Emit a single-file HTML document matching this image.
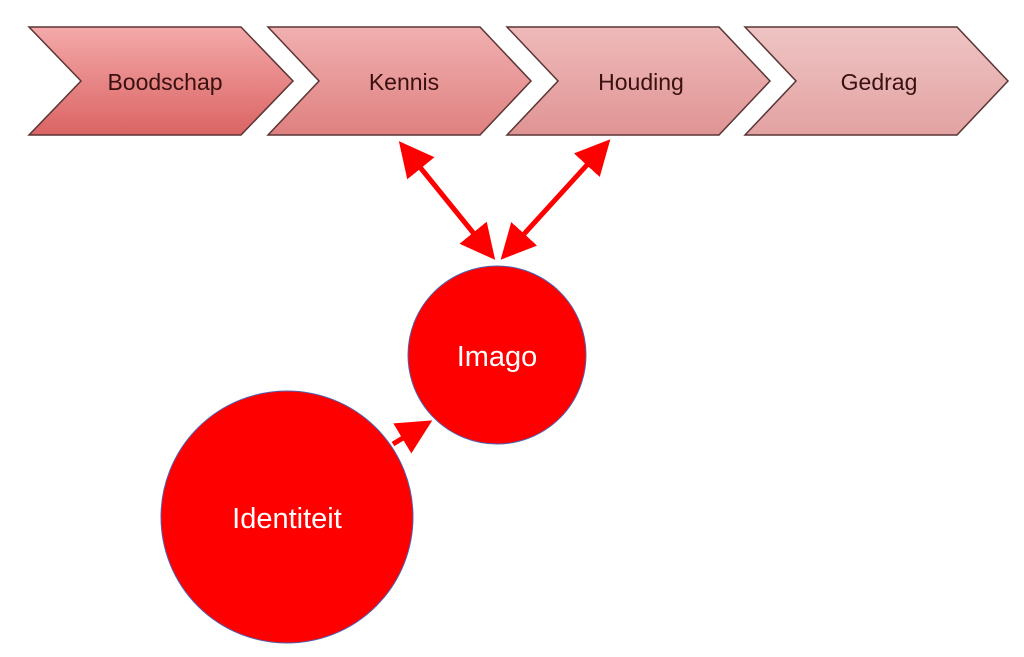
<!DOCTYPE html>
<html><head><meta charset="utf-8"><style>
html,body{margin:0;padding:0;background:#fff;width:1024px;height:657px;overflow:hidden}
svg{display:block}
text{font-family:"Liberation Sans",sans-serif}
</style></head><body>
<svg width="1024" height="657" viewBox="0 0 1024 657" xmlns="http://www.w3.org/2000/svg">
<defs>
<linearGradient id="g1" x1="0" y1="0" x2="0" y2="1"><stop offset="0" stop-color="#f4a9a9"/><stop offset="1" stop-color="#db6464"/></linearGradient>
<linearGradient id="g2" x1="0" y1="0" x2="0" y2="1"><stop offset="0" stop-color="#f1b0b0"/><stop offset="1" stop-color="#df8080"/></linearGradient>
<linearGradient id="g3" x1="0" y1="0" x2="0" y2="1"><stop offset="0" stop-color="#efbaba"/><stop offset="1" stop-color="#e09494"/></linearGradient>
<linearGradient id="g4" x1="0" y1="0" x2="0" y2="1"><stop offset="0" stop-color="#efc4c4"/><stop offset="1" stop-color="#e3a2a2"/></linearGradient>
<marker id="ah" markerWidth="7" markerHeight="7" refX="6" refY="3.5" orient="auto-start-reverse" markerUnits="strokeWidth"><path d="M0,0 L7,3.5 L0,7 z" fill="#f00"/></marker>
</defs>
<g stroke="#5a3535" stroke-width="1.5">
<polygon points="29,27 241,27 293,81 241,135 29,135 81,81" fill="url(#g1)"/>
<polygon points="268,27 480,27 531,81 480,135 268,135 319,81" fill="url(#g2)"/>
<polygon points="507,27 719,27 770,81 719,135 507,135 558,81" fill="url(#g3)"/>
<polygon points="745,27 957,27 1008,81 957,135 745,135 796,81" fill="url(#g4)"/>
</g>
<g font-size="23" fill="#3a1010" text-anchor="middle">
<text x="165" y="90">Boodschap</text>
<text x="404" y="90">Kennis</text>
<text x="641" y="90">Houding</text>
<text x="879" y="90">Gedrag</text>
</g>
<g stroke="#f00" stroke-width="5">
<line x1="402" y1="145" x2="492" y2="256" marker-start="url(#ah)" marker-end="url(#ah)"/>
<line x1="607" y1="143" x2="504" y2="256" marker-start="url(#ah)" marker-end="url(#ah)"/>
<line x1="393" y1="444" x2="428" y2="423" marker-end="url(#ah)"/>
</g>
<circle cx="497" cy="355" r="89" fill="#f00" stroke="#5060b0" stroke-width="1"/>
<circle cx="287" cy="517" r="126" fill="#f00" stroke="#5060b0" stroke-width="1"/>
<text x="497" y="366" font-size="29" fill="#fff" text-anchor="middle">Imago</text>
<text x="287" y="528" font-size="29" fill="#fff" text-anchor="middle">Identiteit</text>
</svg>
</body></html>
